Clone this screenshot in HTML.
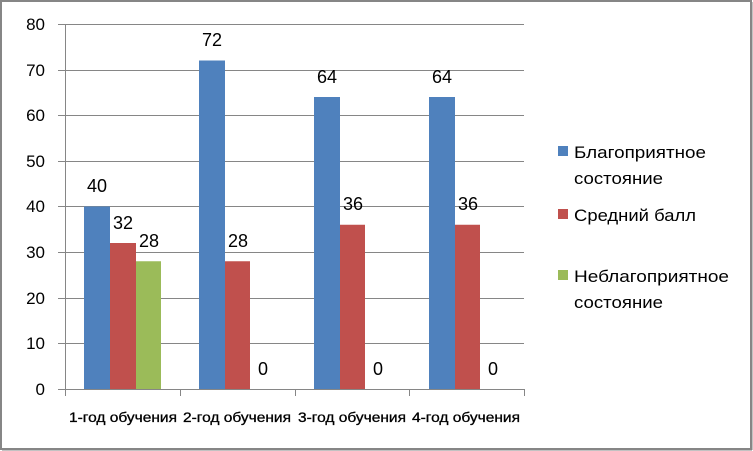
<!DOCTYPE html>
<html><head><meta charset="utf-8"><style>html,body{margin:0;padding:0;background:#fff}svg{display:block}</style></head><body>
<svg width="753" height="451" viewBox="0 0 753 451" xmlns="http://www.w3.org/2000/svg" font-family="Liberation Sans, sans-serif">
<rect x="1" y="1" width="750" height="448" fill="#fff" stroke="#868686" stroke-width="2"/>
<line x1="751.5" y1="2" x2="751.5" y2="450" stroke="#868686" stroke-width="2"/>
<line x1="2" y1="450" x2="752" y2="450" stroke="#868686" stroke-width="1"/>
<g stroke="#868686" stroke-width="1">
<line x1="58" y1="24.5" x2="524" y2="24.5"/>
<line x1="58" y1="70.5" x2="524" y2="70.5"/>
<line x1="58" y1="115.5" x2="524" y2="115.5"/>
<line x1="58" y1="161.5" x2="524" y2="161.5"/>
<line x1="58" y1="206.5" x2="524" y2="206.5"/>
<line x1="58" y1="252.5" x2="524" y2="252.5"/>
<line x1="58" y1="298.5" x2="524" y2="298.5"/>
<line x1="58" y1="343.5" x2="524" y2="343.5"/>
<line x1="58" y1="389.5" x2="524" y2="389.5"/>
<line x1="65.5" y1="24" x2="65.5" y2="396"/>
<line x1="180.5" y1="389" x2="180.5" y2="396"/>
<line x1="295.5" y1="389" x2="295.5" y2="396"/>
<line x1="409.5" y1="389" x2="409.5" y2="396"/>
<line x1="524.5" y1="389" x2="524.5" y2="396"/>
</g>
<g font-size="17" fill="#000" text-anchor="end">
<text x="45" y="30">80</text><text x="45" y="76">70</text><text x="45" y="121">60</text>
<text x="45" y="167">50</text><text x="45" y="212">40</text><text x="45" y="258">30</text>
<text x="45" y="304">20</text><text x="45" y="349">10</text><text x="45" y="395">0</text>
</g>
<rect x="84" y="206.5" width="26" height="182.5" fill="#4f81bd"/>
<rect x="110" y="243" width="26" height="146" fill="#c0504d"/>
<rect x="136" y="261.25" width="25" height="127.75" fill="#9bbb59"/>
<rect x="199" y="60.5" width="26" height="328.5" fill="#4f81bd"/>
<rect x="225" y="261.25" width="25" height="127.75" fill="#c0504d"/>
<rect x="314" y="97" width="26" height="292" fill="#4f81bd"/>
<rect x="340" y="224.75" width="25" height="164.25" fill="#c0504d"/>
<rect x="429" y="97" width="26" height="292" fill="#4f81bd"/>
<rect x="455" y="224.75" width="25" height="164.25" fill="#c0504d"/>
<g font-size="18" fill="#000" text-anchor="middle">
<text x="97" y="192">40</text><text x="123" y="229">32</text><text x="149" y="247">28</text>
<text x="212" y="46">72</text><text x="238" y="247">28</text><text x="263" y="375">0</text>
<text x="327" y="83">64</text><text x="353" y="210">36</text><text x="378" y="375">0</text>
<text x="442" y="83">64</text><text x="468" y="210">36</text><text x="493" y="375">0</text>
</g>
<g font-size="13.5" fill="#000" text-anchor="middle" stroke="#000" stroke-width="0.3">
<text x="123" y="422" textLength="108" lengthAdjust="spacingAndGlyphs">1-год обучения</text>
<text x="237" y="422" textLength="108" lengthAdjust="spacingAndGlyphs">2-год обучения</text>
<text x="352" y="422" textLength="108" lengthAdjust="spacingAndGlyphs">3-год обучения</text>
<text x="466" y="422" textLength="108" lengthAdjust="spacingAndGlyphs">4-год обучения</text>
</g>
<rect x="558" y="146" width="10" height="10" fill="#4f81bd"/>
<rect x="558" y="209" width="10" height="10" fill="#c0504d"/>
<rect x="558" y="270" width="10" height="10" fill="#9bbb59"/>
<g font-size="17" fill="#000">
<text x="574" y="158" textLength="132" lengthAdjust="spacingAndGlyphs">Благоприятное</text>
<text x="574" y="184" textLength="89" lengthAdjust="spacingAndGlyphs">состояние</text>
<text x="574" y="221" textLength="122" lengthAdjust="spacingAndGlyphs">Средний балл</text>
<text x="574" y="282" textLength="155" lengthAdjust="spacingAndGlyphs">Неблагоприятное</text>
<text x="574" y="308" textLength="89" lengthAdjust="spacingAndGlyphs">состояние</text>
</g>
</svg>
</body></html>
